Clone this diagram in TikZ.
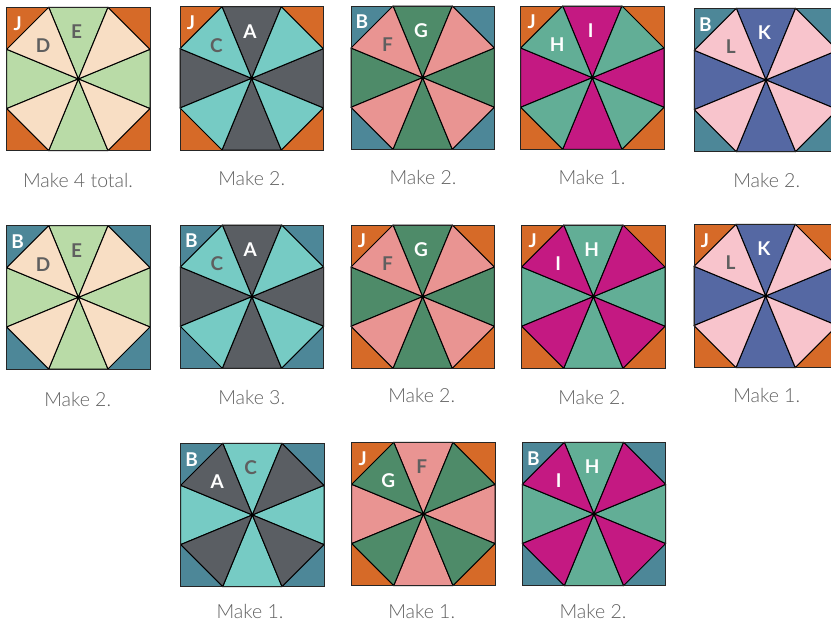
\documentclass[tikz,border=0pt]{standalone}
\usepackage{fontspec}
\setmainfont{Lato}
\newfontfamily\capfont{Lato Light}
\definecolor{cJ}{HTML}{D66A28}
\definecolor{cB}{HTML}{4D8798}
\definecolor{cE}{HTML}{B9DBA7}
\definecolor{cD}{HTML}{F8DEC4}
\definecolor{cA}{HTML}{5A5E63}
\definecolor{cC}{HTML}{76CBC4}
\definecolor{cG}{HTML}{4E8B69}
\definecolor{cF}{HTML}{E99492}
\definecolor{cI}{HTML}{C41982}
\definecolor{cH}{HTML}{62AE96}
\definecolor{cK}{HTML}{5568A3}
\definecolor{cL}{HTML}{F8C4CC}
\definecolor{labgray}{HTML}{5F5F5F}
\definecolor{capgray}{HTML}{606060}
\tikzset{
  piece/.style={draw=black, line width=1pt, line join=round},
  border/.style={draw=black!85, line width=0.9pt},
  lab/.style={font=\fontsize{19}{20}\selectfont\bfseries, inner sep=0pt, anchor=center},
  capt/.style={font=\capfont\fontsize{19.5}{21}\selectfont, text=capgray, inner sep=0pt, anchor=center}
}
% #1 x, #2 y, #3 corner colour, #4 straight colour, #5 diagonal colour
\newcommand{\qblock}[5]{%
\begin{scope}[shift={(#1,#2)}]
  \fill[#3] (0,0) rectangle (143.3,143.3);
  \filldraw[fill=#4, piece] (71.65,71.65) -- (42,0) -- (101.3,0) -- cycle;
  \filldraw[fill=#4, piece] (71.65,71.65) -- (143.3,42) -- (143.3,101.3) -- cycle;
  \filldraw[fill=#4, piece] (71.65,71.65) -- (101.3,143.3) -- (42,143.3) -- cycle;
  \filldraw[fill=#4, piece] (71.65,71.65) -- (0,101.3) -- (0,42) -- cycle;
  \filldraw[fill=#5, piece] (71.65,71.65) -- (101.3,0) -- (143.3,42) -- cycle;
  \filldraw[fill=#5, piece] (71.65,71.65) -- (143.3,101.3) -- (101.3,143.3) -- cycle;
  \filldraw[fill=#5, piece] (71.65,71.65) -- (42,143.3) -- (0,101.3) -- cycle;
  \filldraw[fill=#5, piece] (71.65,71.65) -- (0,42) -- (42,0) -- cycle;
  \fill[black] (71.65,71.65) circle (1.6);
  \draw[border] (0,0) rectangle (143.3,143.3);
\end{scope}}
% #1 name, #2 x, #3 y, #4 corner letter, #5 diag letter, #6 diag colour, #7 top letter, #8 top colour
\newcommand{\qlabels}[8]{%
\begin{scope}[shift={(#2,#3)}]
  \node[lab, text=white] (#1c) at (11,16) {#4};
  \node[lab, text=#6] (#1d) at (36.5,38.5) {#5};
  \node[lab, text=#8] (#1t) at (70,24.5) {#7};
\end{scope}}
\begin{document}
\begin{tikzpicture}[x=1pt, y=-1pt]
\useasboundingbox (0,0) rectangle (831,621);
\clip (0,0) rectangle (831,621);
% row 1
\qblock{6.7}{7.3}{cJ}{cE}{cD}
\qlabels{a1}{6.7}{7.3}{J}{D}{labgray}{E}{labgray}
\qblock{180}{6.7}{cJ}{cA}{cC}
\qlabels{a2}{180}{6.7}{J}{C}{labgray}{A}{white}
\qblock{351}{6}{cB}{cG}{cF}
\qlabels{a3}{351}{6}{B}{F}{labgray}{G}{white}
\qblock{520.7}{6}{cJ}{cI}{cH}
\qlabels{a4}{520.7}{6}{J}{H}{white}{I}{white}
\qblock{694.3}{8.3}{cB}{cK}{cL}
\qlabels{a5}{694.3}{8.3}{B}{L}{labgray}{K}{white}
% row 2
\qblock{6.7}{225.7}{cB}{cE}{cD}
\qlabels{b1}{6.7}{225.7}{B}{D}{labgray}{E}{labgray}
\qblock{180.3}{225}{cB}{cA}{cC}
\qlabels{b2}{180.3}{225}{B}{C}{labgray}{A}{white}
\qblock{351}{225}{cJ}{cG}{cF}
\qlabels{b3}{351}{225}{J}{F}{labgray}{G}{white}
\qblock{521.7}{225}{cJ}{cH}{cI}
\qlabels{b4}{521.7}{225}{J}{I}{white}{H}{white}
\qblock{694}{224.3}{cJ}{cK}{cL}
\qlabels{b5}{694}{224.3}{J}{L}{labgray}{K}{white}
% row 3
\qblock{180.7}{443.3}{cB}{cC}{cA}
\qlabels{c1}{180.7}{443.3}{B}{A}{white}{C}{labgray}
\qblock{351.7}{442.3}{cJ}{cF}{cG}
\qlabels{c2}{351.7}{442.3}{J}{G}{white}{F}{labgray}
\qblock{522.3}{442.3}{cB}{cH}{cI}
\qlabels{c3}{522.3}{442.3}{B}{I}{white}{H}{white}
% captions
\node[capt] (k11) at (78,180) {Make 4 total.};
\node[capt] (k12) at (251.7,178) {Make 2.};
\node[capt] (k13) at (423,177) {Make 2.};
\node[capt] (k14) at (592,177) {Make 1.};
\node[capt] (k15) at (766.7,180) {Make 2.};
\node[capt] (k21) at (77.7,399) {Make 2.};
\node[capt] (k22) at (251.7,397) {Make 3.};
\node[capt] (k23) at (421.7,395) {Make 2.};
\node[capt] (k24) at (591.7,397) {Make 2.};
\node[capt] (k25) at (766.7,395) {Make 1.};
\node[capt] (k31) at (250,611) {Make 1.};
\node[capt] (k32) at (421.7,611) {Make 1.};
\node[capt] (k33) at (593,611) {Make 2.};
\end{tikzpicture}
\end{document}
